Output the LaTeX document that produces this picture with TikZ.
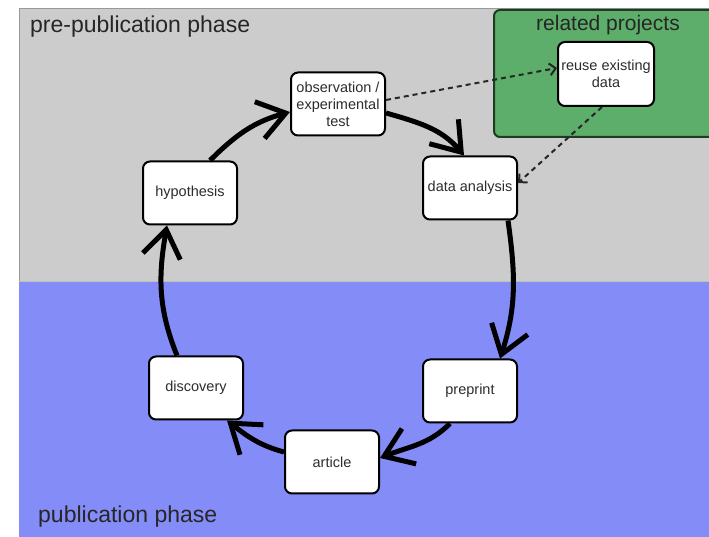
\documentclass[tikz,border=0pt]{standalone}
\usepackage{fontspec}
\setmainfont{Liberation Sans}
\usetikzlibrary{arrows.meta}
\definecolor{bggray}{RGB}{204,204,204}
\definecolor{bgblue}{RGB}{132,140,247}
\definecolor{bggreen}{RGB}{93,174,106}
\definecolor{txt}{RGB}{45,45,45}
\definecolor{greenedge}{RGB}{30,60,35}
\tikzset{
  stagebox/.style={draw=black, line width=2pt, fill=white, rounded corners=7pt,
    minimum width=94pt, minimum height=63pt, inner sep=0pt, align=center,
    text=txt, font=\fontsize{14.5}{17}\selectfont},
  cyc/.style={line width=5pt, -{Straight Barb[length=27pt,width=38pt]}},
  dotted link/.style={line width=2pt, color=black!85, dash pattern=on 5pt off 4pt,
    -{Straight Barb[length=6pt,width=12pt]}},
  phase/.style={text=black!85, font=\fontsize{23}{27}\selectfont, inner sep=0pt, anchor=west}
}
\begin{document}
\begin{tikzpicture}[x=1pt,y=1pt]
\useasboundingbox (0,0) rectangle (709,537);
\clip (0,0) rectangle (709,537);
% backgrounds
\fill[white] (0,0) rectangle (709,537);
\fill[bggray] (19,256) rectangle (712,528);
\draw[black!40, line width=1pt] (19,256) -- (19,528) -- (712,528);
\fill[bgblue] (19,0) rectangle (712,256);
\draw[black!25, line width=0.8pt] (19,256) -- (712,256);
\draw[greenedge, line width=2pt, fill=bggreen, rounded corners=6pt] (494,400) rectangle (725,527);
% titles
\node[phase] (pretitle) at (30,510) {pre-publication phase};
\node[phase] (pubtitle) at (38,20) {publication phase};
\node[text=black!85, font=\fontsize{21}{25}\selectfont, inner sep=0pt] (reltitle) at (608,512) {related projects};
% nodes
\node[stagebox] (obs) at (338,433) {observation /\\experimental\\test};
\node[stagebox] (da) at (470,349) {data analysis};
\node[stagebox] (hyp) at (190,344) {hypothesis};
\node[stagebox] (disc) at (196,149) {discovery};
\node[stagebox] (pre) at (470,146) {preprint};
\node[stagebox] (art) at (332,75) {article};
\node[stagebox, minimum width=96pt, minimum height=64pt] (reuse) at (606,463) {reuse existing\\data};
% cycle arrows
\draw[cyc] ([xshift=20pt]hyp.north) to[out=45,in=195] ([yshift=-8pt]obs.west);
\draw[cyc] ([yshift=-9pt]obs.east) to[out=-16,in=130] ([xshift=-6pt]da.north);
\draw[cyc] ([xshift=38pt]da.south) to[out=-82,in=72] ([xshift=30pt]pre.north);
\draw[cyc] ([xshift=-20pt]pre.south) to[out=-135,in=22] ([yshift=4pt]art.east);
\draw[cyc] ([yshift=10pt]art.west) to[out=165,in=-38] ([xshift=31pt]disc.south);
\draw[cyc] ([xshift=-19pt]disc.north) to[out=112,in=-100] ([xshift=-23pt]hyp.south);
% dashed links
\draw[dotted link] ([yshift=4pt]obs.east) -- ([yshift=6pt]reuse.west);
\draw[dotted link] ([xshift=-4pt]reuse.south) -- ([yshift=5pt]da.east);
\end{tikzpicture}
\end{document}
